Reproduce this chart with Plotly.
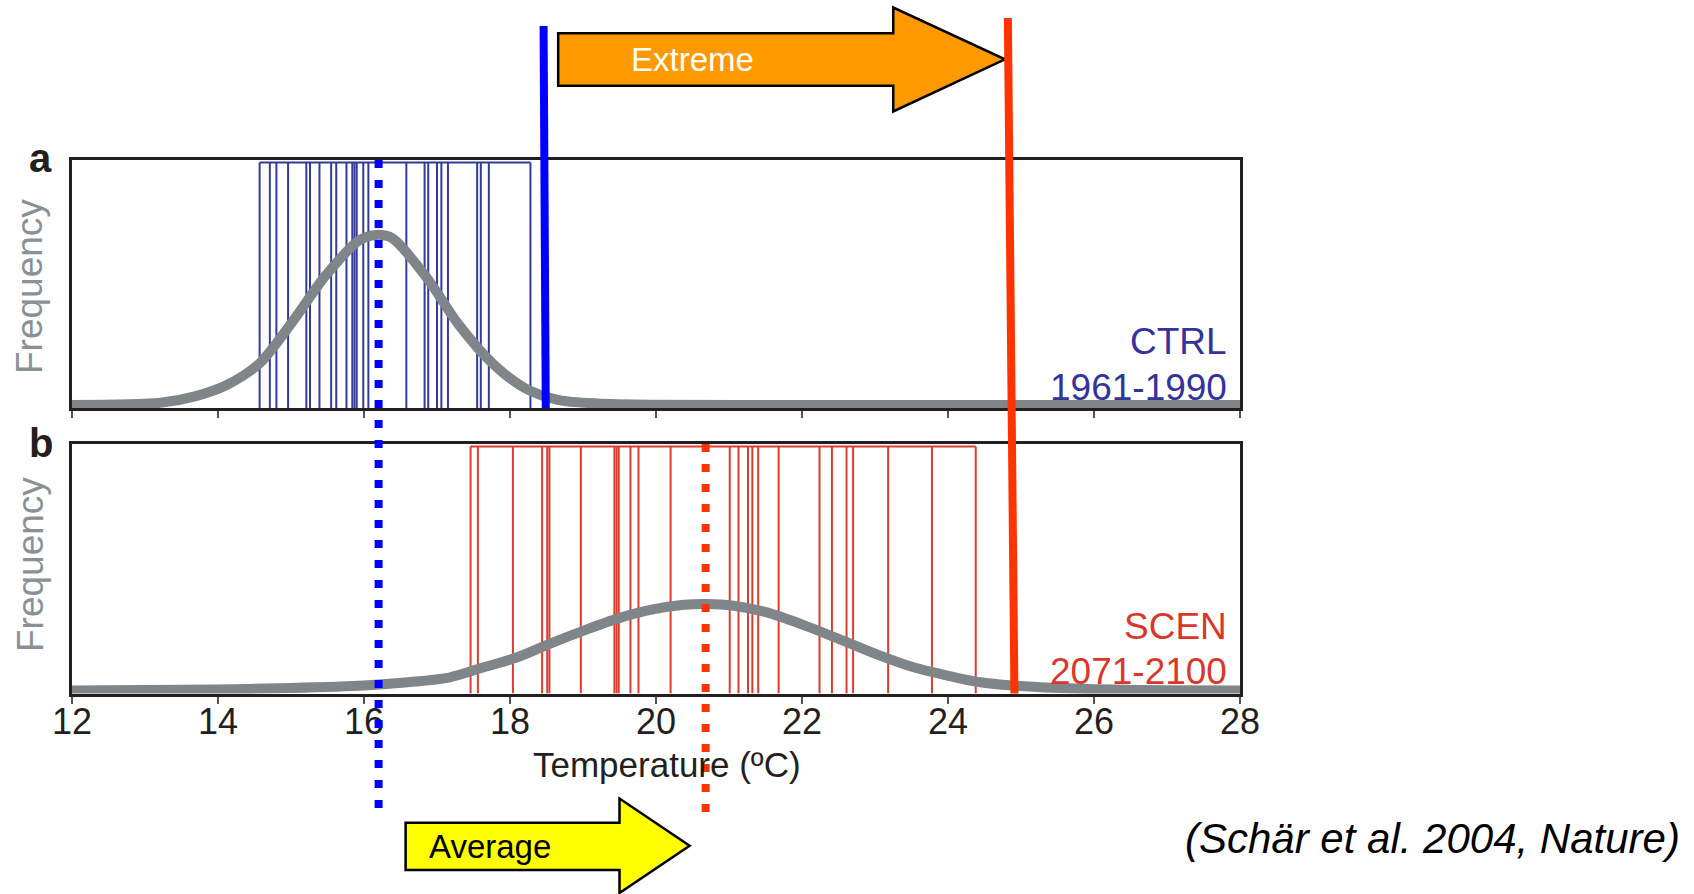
import plotly.graph_objects as go

# ---------------- data ----------------
# yearly summer temperatures, CTRL 1961-1990 (°C)
ctrl_years = [14.57, 14.71, 14.80, 14.96, 15.21, 15.26, 15.39, 15.55, 15.62, 15.76,
              15.84, 15.87, 15.90, 15.99, 16.06, 16.58, 16.83, 16.88, 17.00, 17.06,
              17.15, 17.55, 17.60, 17.71, 18.28]
# yearly summer temperatures, SCEN 2071-2100 (°C)
scen_years = [17.46, 17.56, 18.04, 18.44, 18.51, 18.54, 18.97, 19.43, 19.46, 19.49,
              19.65, 19.76, 20.20, 21.01, 21.13, 21.26, 21.32, 21.40, 21.68, 22.24,
              22.41, 22.61, 22.70, 23.18, 23.78, 24.38]

# fitted frequency curves (relative height in each panel)
ctrl_curve_x = [12, 13.21, 13.67, 14.12, 14.57, 15.02, 15.48, 15.94, 16.17, 16.39,
                16.85, 17.30, 17.76, 18.21, 18.67, 19.2, 20, 22, 25, 28]
ctrl_curve_y = [0.012, 0.021, 0.046, 0.093, 0.18, 0.348, 0.536, 0.677, 0.698, 0.684,
                0.529, 0.335, 0.18, 0.079, 0.032, 0.018, 0.013, 0.012, 0.012, 0.012]
scen_curve_x = [12, 14, 15, 16, 16.6, 17.18, 17.64, 18.10, 18.55, 19.01, 19.47, 19.92,
                20.38, 20.70, 21.06, 21.52, 21.98, 22.62, 23.07, 23.53, 23.99, 24.44,
                24.89, 25.81, 27, 28]
scen_curve_y = [0.012, 0.016, 0.022, 0.032, 0.045, 0.065, 0.105, 0.145, 0.2, 0.252, 0.3,
                0.335, 0.356, 0.359, 0.352, 0.325, 0.279, 0.205, 0.152, 0.105, 0.072,
                0.045, 0.032, 0.019, 0.013, 0.012]

ctrl_mean = 16.20
scen_mean = 20.68
ctrl_extreme = (18.46, 18.49)   # top, bottom of the slanted line
scen_extreme = (24.82, 24.91)

tick_vals = [12, 14, 16, 18, 20, 22, 24, 26, 28]
tick_text = [str(v) for v in tick_vals]

ctrl_label = ["CTRL", "1961-1990"]
scen_label = ["SCEN", "2071-2100"]

# ---------------- styling ----------------
W, H = 1694, 894
FONT = "Liberation Sans, Arial, Helvetica, sans-serif"
FRAME = "#231f20"
BLUE_BAR = "#343a98"
RED_BAR = "#dc3c2e"
GRAY = "#7f8589"
BLUE = "#0000ff"
RED = "#ff3300"


def yp(px):
    return 1 - px / H


def xp(px):
    return (px - 72) / 1168


dom_a = [yp(408), yp(160)]
dom_b = [yp(693.5), yp(444)]


def barcode(vals):
    xs, ys = [], []
    for v in vals:
        xs += [v, v, None]
        ys += [0, 0.99, None]
    xs += [min(vals), max(vals)]
    ys += [0.99, 0.99]
    return xs, ys


fig = go.Figure()
bx, by = barcode(ctrl_years)
fig.add_trace(go.Scatter(x=bx, y=by, mode="lines", line=dict(color=BLUE_BAR, width=2),
                         xaxis="x2", yaxis="y", hoverinfo="skip"))
fig.add_trace(go.Scatter(x=ctrl_curve_x, y=ctrl_curve_y, mode="lines",
                         line=dict(color=GRAY, width=10, shape="spline", smoothing=0.8),
                         xaxis="x2", yaxis="y", hoverinfo="skip"))
rx, ry = barcode(scen_years)
fig.add_trace(go.Scatter(x=rx, y=ry, mode="lines", line=dict(color=RED_BAR, width=2),
                         xaxis="x", yaxis="y2", hoverinfo="skip"))
fig.add_trace(go.Scatter(x=scen_curve_x, y=scen_curve_y, mode="lines",
                         line=dict(color=GRAY, width=10, shape="spline", smoothing=0.8),
                         xaxis="x", yaxis="y2", hoverinfo="skip"))

axis_common = dict(range=[12, 28], tickvals=tick_vals, ticktext=tick_text,
                   ticks="outside", ticklen=7, tickwidth=1.5, tickcolor="#555",
                   showline=True, mirror=True, linecolor=FRAME, linewidth=3,
                   showgrid=False, zeroline=False, layer="below traces")
yaxis_common = dict(range=[0, 1], showticklabels=False, ticks="", showline=True,
                    mirror=True, linecolor=FRAME, linewidth=3, showgrid=False,
                    zeroline=False, layer="below traces")

fig.update_layout(
    width=W, height=H, margin=dict(l=72, r=W - 1240, t=0, b=0),
    paper_bgcolor="white", plot_bgcolor="white", showlegend=False,
    xaxis=dict(domain=[0, 1], anchor="y2", ticklabelstandoff=-13,
               tickfont=dict(family=FONT, size=36, color=FRAME), **axis_common),
    xaxis2=dict(domain=[0, 1], anchor="y", matches="x", showticklabels=False,
                **axis_common),
    yaxis=dict(domain=dom_a, anchor="x2", **yaxis_common),
    yaxis2=dict(domain=dom_b, anchor="x", **yaxis_common),
)

shapes = []
# Extreme arrow (orange)
ex0, exn, ext = 18.66, 23.25, 24.78
shapes.append(dict(type="path", xref="x", yref="paper", layer="above",
                   path=(f"M {ex0},{yp(33.3)} L {exn},{yp(33.3)} L {exn},{yp(7.5)} "
                         f"L {ext},{yp(59.3)} L {exn},{yp(111.5)} L {exn},{yp(85.7)} "
                         f"L {ex0},{yp(85.7)} Z"),
                   fillcolor="#ff9900", line=dict(color="black", width=2.5)))
# Average arrow (yellow)
ax0, axn, axt = 16.57, 19.50, 20.46
shapes.append(dict(type="path", xref="x", yref="paper", layer="above",
                   path=(f"M {ax0},{yp(822.7)} L {axn},{yp(822.7)} L {axn},{yp(798.5)} "
                         f"L {axt},{yp(845.7)} L {axn},{yp(893)} L {axn},{yp(870)} "
                         f"L {ax0},{yp(870)} Z"),
                   fillcolor="#ffff00", line=dict(color="black", width=2.5)))
# dotted mean lines
shapes.append(dict(type="line", xref="x", yref="paper", layer="above",
                   x0=ctrl_mean, x1=ctrl_mean, y0=dom_a[1], y1=yp(816),
                   line=dict(color=BLUE, width=8, dash="8px,12px")))
shapes.append(dict(type="line", xref="x", yref="paper", layer="above",
                   x0=scen_mean, x1=scen_mean, y0=dom_b[1], y1=yp(816),
                   line=dict(color=RED, width=8, dash="8px,12px")))
# solid extreme lines
shapes.append(dict(type="line", xref="x", yref="paper", layer="above",
                   x0=ctrl_extreme[0], x1=ctrl_extreme[1], y0=yp(26), y1=dom_a[0],
                   line=dict(color=BLUE, width=8)))
shapes.append(dict(type="line", xref="x", yref="paper", layer="above",
                   x0=scen_extreme[0], x1=scen_extreme[1], y0=yp(18), y1=dom_b[0],
                   line=dict(color=RED, width=8)))
fig.update_layout(shapes=shapes)


def ann(text, x, y, size, color, xanchor="center", **kw):
    return dict(text=text, x=x, y=y, xref="paper", yref="paper", showarrow=False,
                xanchor=xanchor, yanchor="middle",
                font=dict(family=FONT, size=size, color=color), **kw)


annotations = [
    ann("<b>a</b>", xp(40), yp(158), 40, FRAME),
    ann("<b>b</b>", xp(41), yp(443), 40, FRAME),
    ann("Frequency", xp(30), yp(287), 37, "#8a9196", textangle=-90),
    ann("Frequency", xp(30), yp(565), 37, "#8a9196", textangle=-90),
    ann(ctrl_label[0], xp(1229), yp(341), 37, "#333399", xanchor="right"),
    ann(ctrl_label[1], xp(1229), yp(387), 37, "#333399", xanchor="right"),
    ann(scen_label[0], xp(1229), yp(626), 37, "#d9372b", xanchor="right"),
    ann(scen_label[1], xp(1229), yp(671), 37, "#d9372b", xanchor="right"),
    ann("Temperature (ºC)", xp(667), yp(764), 35, FRAME),
    ann("Extreme", xp(692), yp(59), 33, "white"),
    ann("Average", xp(490), yp(846), 33, "black"),
    ann("<i>(Schär et al. 2004, Nature)</i>", xp(1682), yp(838), 42, "black",
        xanchor="right"),
]
fig.update_layout(annotations=annotations)

fig.write_html("out.html")
